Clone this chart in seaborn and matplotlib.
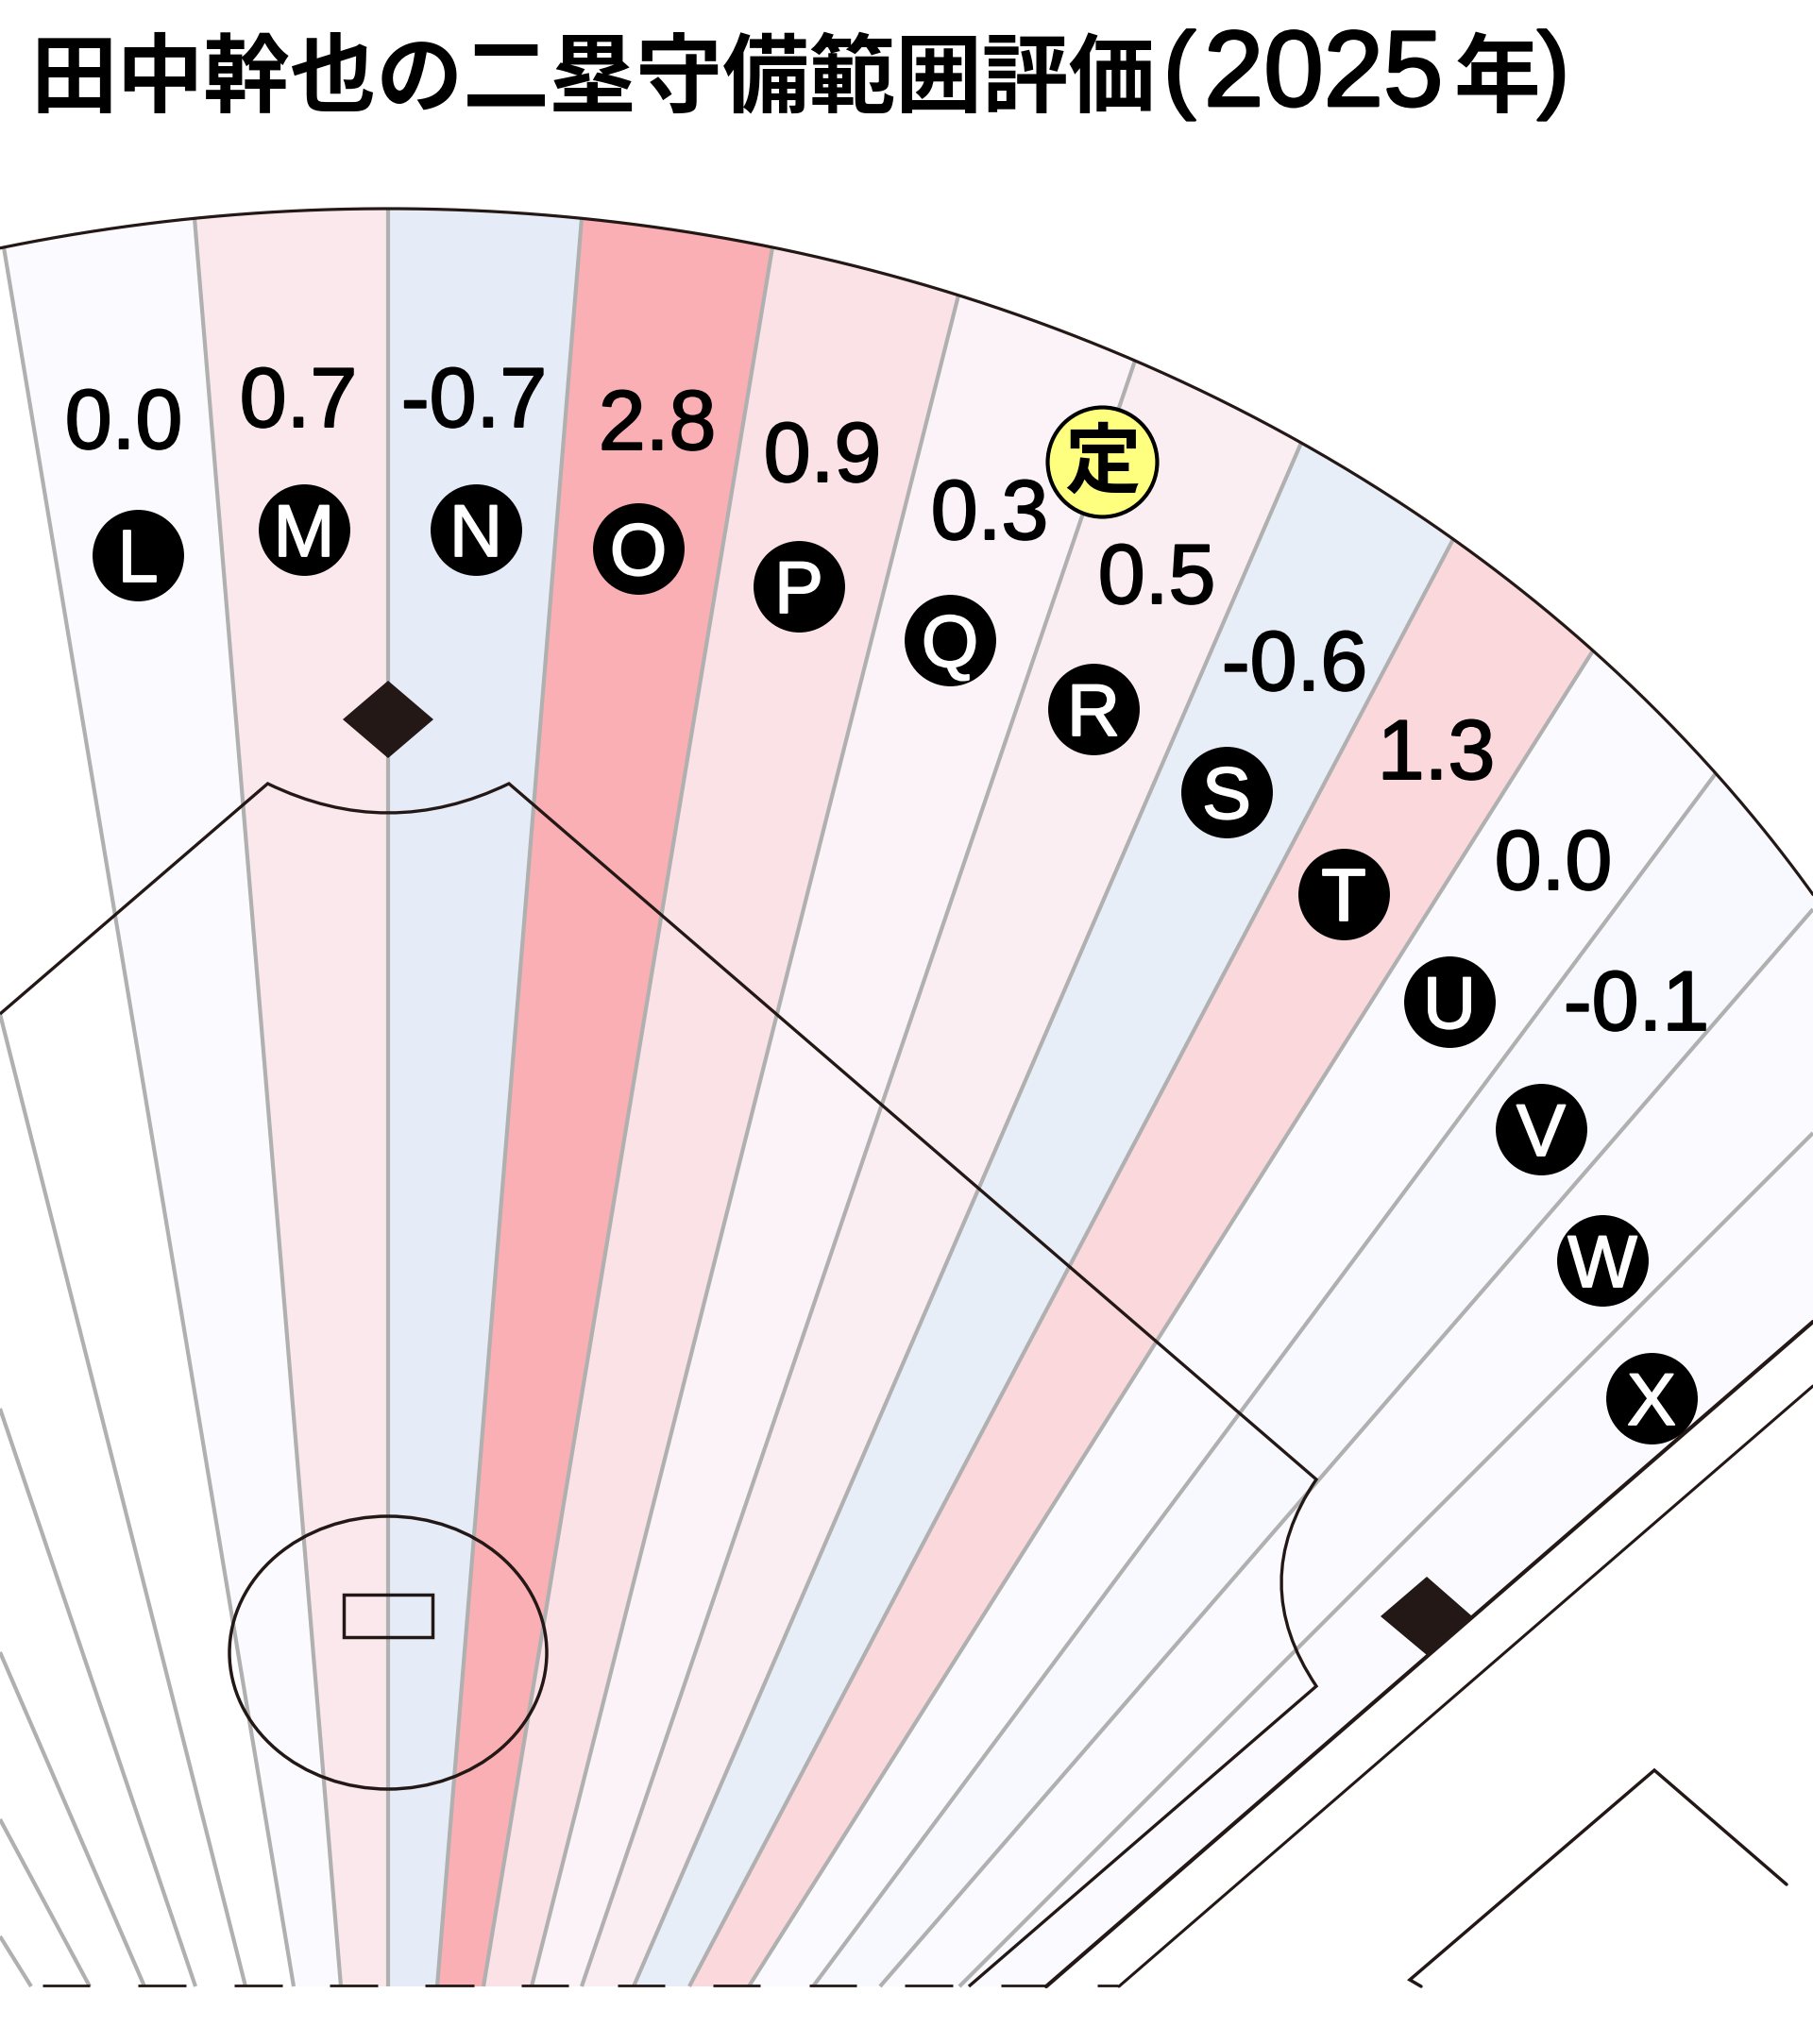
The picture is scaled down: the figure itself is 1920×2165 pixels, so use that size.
import numpy as np
import pandas as pd
import matplotlib.pyplot as plt
import matplotlib.patheffects as pe
from matplotlib.colors import TwoSlopeNorm
from matplotlib.patches import Ellipse, PathPatch, Rectangle
from matplotlib.path import Path
import seaborn as sns

# zones and their scores (W and X have no score printed)
zones = ["L", "M", "N", "O", "P", "Q", "R", "S", "T", "U", "V", "W", "X"]
scores = [0.0, 0.7, -0.7, 2.8, 0.9, 0.3, 0.5, -0.6, 1.3, 0.0, -0.1, np.nan, np.nan]
score_labels = ["0.0", "0.7", "-0.7", "2.8", "0.9", "0.3", "0.5", "-0.6", "1.3", "0.0", "-0.1", "", ""]

# where the badges and the numbers sit, in image pixels
badge_x = [146, 322, 504, 676, 846, 1006, 1158, 1299, 1423, 1535, 1632, 1697, 1749]
badge_y = [588, 561, 561, 581, 621, 678, 751, 839, 947, 1061, 1196, 1335, 1481]
label_x = [131, 316, 502, 696, 871, 1048, 1225, 1371, 1521, 1645, 1733, 0, 0]
label_y = [445, 422, 422, 446, 480, 541, 609, 701, 795, 912, 1061, 0, 0]

# zone boundaries: on the fence arc, then at the bottom cut
ray_top_x = [4, 206, 411, 616, 818, 1015, 1202, 1378, 1539, 1687, 1817, 1920, 1920, 1920]
ray_bottom_x = [311, 361, 411, 463, 512, 563, 616, 671, 730, 793, 861, 932, 1016, 1108]
edge_y = {11: 963, 12: 1200, 13: 1400}

# boundaries left of L, they come in from the image edge
left_edge_y = [1074, 1492, 1750, 1927, 2051]
left_bottom_x = [260, 207, 153, 95, 33]

dash_start = [45, 146, 248, 349, 450, 552, 654, 755, 857, 958, 1060, 1162]
dash_end = [95, 197, 299, 400, 502, 602, 704, 805, 907, 1009, 1109, 1184]

BOTTOM = 2104
DARK = "#231815"
GRID = "#B0B0B0"


def fence_y(x):
    x = np.asarray(x, dtype=float)
    return 1763 - 1542 * np.sqrt(1 - ((x - 411) / 1778) ** 2)


def ray_top(i):
    if i in edge_y:
        return 1920, edge_y[i]
    return ray_top_x[i], float(fence_y(ray_top_x[i]))


sns.set_theme(style="white")
plt.rcParams["font.family"] = ["Liberation Sans", "Noto Sans CJK JP", "DejaVu Sans"]

fig = plt.figure(figsize=(19.2, 21.65), dpi=100)
ax = fig.add_axes([0, 0, 1, 1])
ax.set_xlim(0, 1920)
ax.set_ylim(2165, 0)
ax.axis("off")

zone_cmap = sns.blend_palette(["#E5ECF7", "#FBFBFF", "#F9AFB3"], as_cmap=True)
norm = TwoSlopeNorm(vmin=-0.7, vcenter=0, vmax=2.8)

for i, score in enumerate(scores):
    color = "#FBFBFF" if np.isnan(score) else zone_cmap(norm(score))
    x0, y0 = ray_top(i)
    x1, y1 = ray_top(i + 1)
    arc_x = np.linspace(x0, min(x1, 1920), 40)
    if x0 < 1920:
        top = list(zip(arc_x, fence_y(arc_x)))
    else:
        top = [(x0, y0)]
    pts = top + [(x1, y1), (ray_bottom_x[i + 1], BOTTOM), (ray_bottom_x[i], BOTTOM)]
    ax.fill(*zip(*pts), color=color, lw=0, zorder=1)

for i in range(len(ray_top_x) - 1):
    x0, y0 = ray_top(i)
    ax.plot([x0, ray_bottom_x[i]], [y0, BOTTOM], color=GRID, lw=3.0, zorder=2, solid_capstyle="butt")
for y0, xb in zip(left_edge_y, left_bottom_x):
    ax.plot([0, xb], [y0, BOTTOM], color=GRID, lw=3.0, zorder=2, solid_capstyle="butt")

# fence
fx = np.linspace(0, 1920, 400)
ax.plot(fx, fence_y(fx), color=DARK, lw=2.3, zorder=3)

# infield edge with the two grass cut-outs
infield = Path(
    [(0, 1074), (283.5, 830), (411, 892), (539, 830), (1394, 1567), (1320, 1676), (1394, 1786), (1026, BOTTOM)],
    [Path.MOVETO, Path.LINETO, Path.CURVE3, Path.CURVE3, Path.LINETO, Path.CURVE3, Path.CURVE3, Path.LINETO],
)
ax.add_patch(PathPatch(infield, fill=False, ec=DARK, lw=2.4, zorder=3, joinstyle="miter"))

# foul lines
ax.plot([1108, 1920], [BOTTOM, 1400], color=DARK, lw=3.0, zorder=3)
ax.plot([1185, 1920], [BOTTOM, 1468], color=DARK, lw=2.2, zorder=3)
ax.plot([1505, 1493, 1752, 1892], [BOTTOM, 2097, 1875, 1996], color=DARK, lw=2.5, zorder=3, solid_joinstyle="miter")

# mound and rubber
ax.add_patch(Ellipse((411, 1750.5), 336, 289, fill=False, ec=DARK, lw=2.5, zorder=3))
ax.add_patch(Rectangle((364, 1689), 94, 45, fill=False, ec=DARK, lw=2.5, zorder=3))

# bases
ax.fill([363, 411, 459, 411], [762, 721, 762, 803], color=DARK, lw=0, zorder=4)
ax.fill([1462, 1511, 1559, 1511], [1712, 1670, 1712, 1753], color=DARK, lw=0, zorder=4)

ax.hlines([2103] * len(dash_start), dash_start, dash_end, color=DARK, lw=2.0, zorder=4)

badges = pd.DataFrame({"x": badge_x, "y": badge_y, "zone": zones})
sns.scatterplot(data=badges, x="x", y="y", s=4870, color="black", linewidth=0, legend=False, ax=ax, zorder=5, clip_on=False)
ax.set_xlim(0, 1920)
ax.set_ylim(2165, 0)
ax.set_xlabel("")
ax.set_ylabel("")

letter_fx = [pe.withStroke(linewidth=1.3, foreground="white")]
for _, row in badges.iterrows():
    ax.text(row["x"], row["y"] + 28, row["zone"], color="white", fontsize=56, ha="center", va="baseline",
            family="Liberation Sans", path_effects=letter_fx, zorder=6)

digit_fx = [pe.withStroke(linewidth=1.4, foreground="black")]
for x, y, s in zip(label_x, label_y, score_labels):
    if s:
        ax.text(x, y + 30, s, color="black", fontsize=64.5, ha="center", va="baseline",
                family="Liberation Sans", path_effects=digit_fx, zorder=6)

# the regular starter's position
ax.scatter([1167], [489], s=6970, color="#FFFF7F", edgecolor="black", linewidth=3, zorder=5)
ax.text(1167, 515, "定", fontsize=58, fontweight="bold", ha="center", va="baseline",
        family="Noto Sans CJK JP", color="black", zorder=6)

# title is set in pieces: the kanji and the latin run at different sizes
title_fx = [pe.withStroke(linewidth=2.0, foreground="black")]
ax.text(32, 112, "田中幹也の二塁守備範囲評価", fontsize=66, fontweight="bold", ha="left", va="baseline",
        family="Noto Sans CJK JP", color="black", zorder=6)
ax.text(1232, 106, "(", fontsize=74, ha="left", va="baseline", family="Liberation Sans", color="black",
        path_effects=title_fx, zorder=6)
ax.text(1275, 112, "2025", fontsize=82, ha="left", va="baseline", family="Liberation Sans", color="black",
        path_effects=title_fx, zorder=6)
ax.text(1585, 112, "年", fontsize=66, fontweight="bold", ha="center", va="baseline",
        family="Noto Sans CJK JP", color="black", zorder=6)
ax.text(1628, 106, ")", fontsize=74, ha="left", va="baseline", family="Liberation Sans", color="black",
        path_effects=title_fx, zorder=6)

fig.savefig("out.png", dpi=100, facecolor="white")
